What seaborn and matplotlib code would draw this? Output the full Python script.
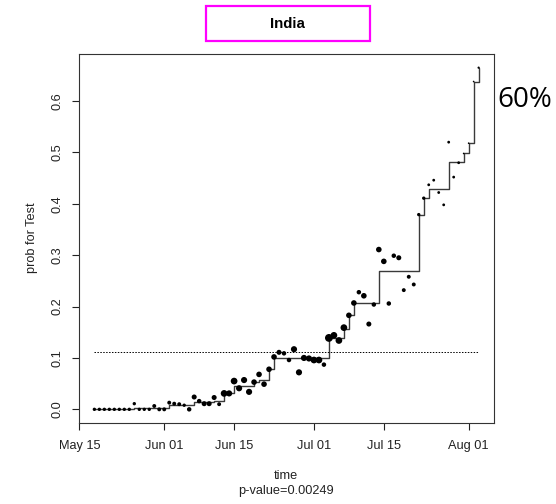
"""Isotonic-style step fit of daily test probability for India."""

import matplotlib
matplotlib.use("Agg")
import matplotlib.pyplot as plt
import matplotlib.dates as mdates
from matplotlib.patches import Rectangle
import numpy as np
import pandas as pd
import seaborn as sns

# daily observed probability (dots); dot diameter in px ~ weight of the day
obs_dates = pd.date_range("2020-05-18", "2020-08-03", freq="D")
obs_prob = [
    0.0, 0.0, 0.0, 0.0, 0.0, 0.0, 0.0, 0.0, 0.011, 0.0, 0.0, 0.0, 0.0065, 0.0,
    0.0, 0.013, 0.011, 0.010, 0.008, 0.0, 0.024, 0.016, 0.011, 0.011, 0.023,
    0.010, 0.031, 0.031, 0.055, 0.041, 0.057, 0.034, 0.053, 0.068, 0.049, 0.078,
    0.102, 0.111, 0.109, 0.096, 0.117, 0.072, 0.100, 0.099, 0.096, 0.096, 0.087,
    0.139, 0.144, 0.134, 0.159, 0.183, 0.207, 0.228, 0.221, 0.166, 0.204, 0.311,
    0.288, 0.206, 0.299, 0.295, 0.232, 0.258, 0.243, 0.379, 0.411, 0.437, 0.446,
    0.422, 0.398, 0.520, 0.452, 0.480, 0.498, 0.518, 0.638, 0.665,
]
obs_weight = [
    3, 3, 3, 3, 3, 3, 3, 3, 3, 3, 3, 3, 3.5, 3.5,
    3.5, 3.5, 3.5, 3.5, 3, 4, 4.5, 4, 4.5, 4.5, 4.5,
    3.5, 6, 5.5, 6, 5.5, 5.5, 5.5, 5, 5, 5, 5,
    5, 4.5, 4, 4, 5.5, 5.5, 5.5, 5.5, 6, 6, 4,
    7, 6, 6, 6, 5, 5, 4, 5, 4.5, 4, 5,
    5, 4, 4, 4.5, 3.5, 3.5, 3.5, 3, 3, 2.5, 2.5,
    2.5, 2.5, 2.5, 2.5, 2.5, 1.5, 1.5, 1.5, 2,
]

# monotone step fit: level starting at each change date
fit_dates = pd.to_datetime([
    "2020-05-18", "2020-05-26", "2020-06-02", "2020-06-07", "2020-06-11",
    "2020-06-13", "2020-06-15", "2020-06-19", "2020-06-20", "2020-06-22",
    "2020-06-23", "2020-07-04", "2020-07-07", "2020-07-08", "2020-07-09",
    "2020-07-14", "2020-07-22", "2020-07-23", "2020-07-24", "2020-07-28",
    "2020-07-31", "2020-08-01", "2020-08-02", "2020-08-03",
])
fit_level = [
    0.0, 0.003, 0.008, 0.015, 0.017, 0.032, 0.045, 0.054, 0.058, 0.078,
    0.099, 0.139, 0.157, 0.183, 0.206, 0.270, 0.379, 0.411, 0.429, 0.482,
    0.498, 0.518, 0.638, 0.665,
]

threshold = 0.112
x_ticks = pd.to_datetime(["2020-05-15", "2020-06-01", "2020-06-15",
                          "2020-07-01", "2020-07-15", "2020-08-01"])
y_ticks = [0.0, 0.1, 0.2, 0.3, 0.4, 0.5, 0.6]
title = "India"
p_value = "p-value=0.00249"

sns.set_style("ticks")
plt.rcParams["font.family"] = ["Liberation Sans", "DejaVu Sans"]

df = pd.DataFrame({"time": obs_dates, "prob": obs_prob,
                   "w": np.square(obs_weight)})
fit = pd.DataFrame({"time": fit_dates, "prob": fit_level})

fig = plt.figure(figsize=(5.56, 5.04), dpi=100)
ax = fig.add_axes([79 / 556, 1 - 423 / 504, 415 / 556, 369 / 504])

pt = 0.72 * 1.12  # px -> pt at 100 dpi, slightly enlarged
wmin, wmax = min(obs_weight), max(obs_weight)
sns.scatterplot(data=df, x="time", y="prob", size="w",
                sizes=((wmin * pt) ** 2, (wmax * pt) ** 2),
                color="black", edgecolor="none", legend=False, ax=ax, zorder=3)
sns.lineplot(data=fit, x="time", y="prob", drawstyle="steps-post",
             estimator=None, color="#3a3a3a", linewidth=1.0, ax=ax, zorder=2)
ax.plot([obs_dates[0], obs_dates[-1]], [threshold, threshold],
        color="black", linewidth=0.7, linestyle=(0, (1.5, 1.5)))

# R style 4% padding around the data range
span = obs_dates[-1] - obs_dates[0]
ax.set_xlim(obs_dates[0] - span * 0.04, obs_dates[-1] + span * 0.04)
ymax = max(obs_prob)
ax.set_ylim(-ymax * 0.04, ymax * 1.04)

ax.set_xticks(x_ticks)
ax.xaxis.set_major_formatter(mdates.DateFormatter("%b %d"))
ax.set_yticks(y_ticks)
ax.set_yticklabels([f"{v:.1f}" for v in y_ticks])
ax.tick_params(axis="both", direction="out", length=5, width=0.8,
               pad=7.5, labelsize=9.2, colors="#222222")
ax.tick_params(axis="y", labelrotation=90, pad=6)
for lab in ax.get_yticklabels():
    lab.set_va("center")
ax.set_xlabel("")
ax.set_ylabel("")
for s in ax.spines.values():
    s.set_visible(True)
    s.set_color("#333333")
    s.set_linewidth(0.8)

fig.text(32 / 556, 1 - 238 / 504, "prob for Test", rotation=90,
         ha="center", va="center", fontsize=9.2, color="#222222")
fig.text(286 / 556, 1 - 476 / 504, "time", ha="center", va="center",
         fontsize=9.2, color="#222222")
fig.text(286 / 556, 1 - 491 / 504, p_value, ha="center", va="center",
         fontsize=9.2, color="#222222")

fig.text(287 / 556, 1 - 24 / 504, title, ha="center", va="center",
         fontsize=10.8, fontweight="bold", color="black")
fig.patches.append(Rectangle((206 / 556, 1 - 41 / 504), 164 / 556, 35 / 504,
                             transform=fig.transFigure, fill=False,
                             edgecolor="#ff00ff", linewidth=1.6))
fig.text(497 / 556, 1 - 100 / 504, "60%", ha="left", va="center",
         fontsize=20, family=["Open Sans", "DejaVu Sans"], color="black")

fig.savefig("out.png", dpi=100)
